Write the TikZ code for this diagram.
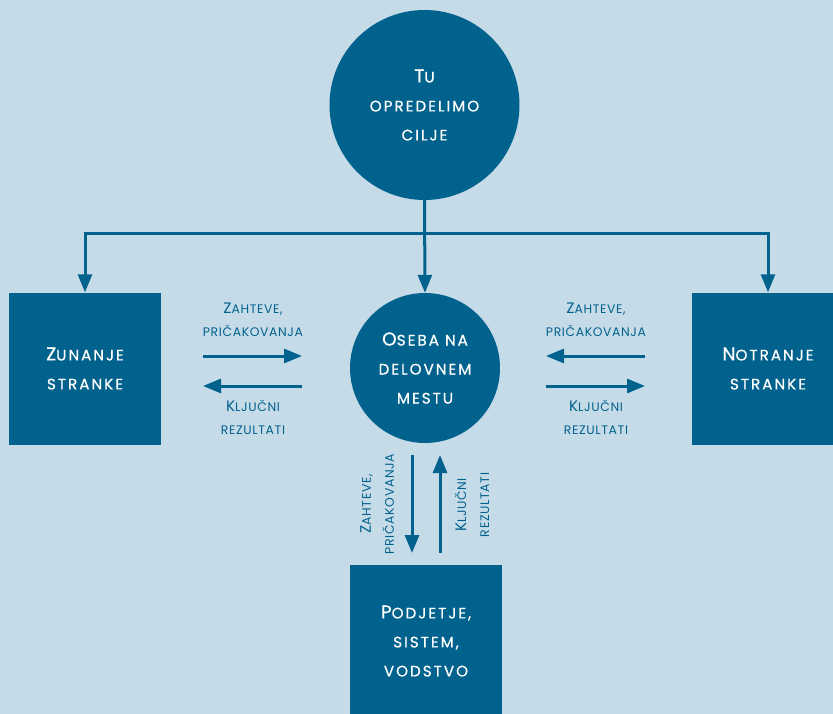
\documentclass[tikz,border=0pt]{standalone}
\usepackage{fontspec}
\setmainfont{Poppins}
\newfontfamily\nodefont[LetterSpace=13,FakeBold=0.6]{Poppins}
\newfontfamily\lblfont[LetterSpace=5]{Poppins}
\usetikzlibrary{arrows.meta}
\definecolor{bgblue}{HTML}{C6DBE8}
\definecolor{deepblue}{HTML}{01628E}
% initial capital, set larger than the small-cap body
\newcommand\nodecap[1]{{\fontsize{18.6}{29}\selectfont #1}}
\newcommand\lblcap[1]{{\fontsize{15.2}{23}\selectfont #1}}
\tikzset{
  bubble/.style={circle, fill=deepblue, draw=none, text=white, align=center,
    font=\nodefont\fontsize{15.2}{29}\selectfont},
  block/.style={rectangle, fill=deepblue, draw=none, text=white, align=center,
    minimum width=152pt, minimum height=152pt, font=\nodefont\fontsize{15.2}{29}\selectfont},
  lbl/.style={text=deepblue, align=center, font=\lblfont\fontsize{12.4}{23}\selectfont, inner sep=0pt},
  link/.style={draw=deepblue, line width=3pt,
    -{Triangle[width=14pt,length=18pt]}},
}
\begin{document}
\begin{tikzpicture}[x=1pt,y=-1pt]
  \fill[bgblue] (0,0) rectangle (833,714);
  \useasboundingbox (0,0) rectangle (833,714);

  % nodes
  \node[bubble, minimum size=190pt] (goal) at (424.5,105) {\nodecap{T}U\\OPREDELIMO\\CILJE};
  \node[bubble, minimum size=150pt] (person) at (425,368) {\nodecap{O}SEBA NA\\DELOVNEM\\MESTU};
  \node[block] (outer) at (85,368.5) {\nodecap{Z}UNANJE\\STRANKE};
  \node[block] (inner) at (768,368.5) {\nodecap{N}OTRANJE\\STRANKE};
  \node[block] (firm) at (426,641) {\nodecap{P}ODJETJE,\\SISTEM,\\VODSTVO};

  % distribution from the goal
  \coordinate (split) at (goal.south |- 0,234);
  \draw[link] (goal.south) -- (person.north);
  \draw[link] (split) -| (outer.north);
  \draw[link] (split) -| (inner.north);

  % exchange with outer clients
  \coordinate (oa1) at (203,356); \coordinate (oa2) at (302,356);
  \coordinate (ob1) at (302,386); \coordinate (ob2) at (203,386);
  \draw[link] (oa1) -- (oa2);
  \draw[link] (ob1) -- (ob2);
  \node[lbl] (oreq) at (253,320) {\lblcap{Z}AHTEVE,\\PRIČAKOVANJA};
  \node[lbl] (ores) at (253,417) {\lblcap{K}LJUČNI\\REZULTATI};

  % exchange with inner clients
  \coordinate (ia1) at (645,356); \coordinate (ia2) at (546,356);
  \coordinate (ib1) at (546,386); \coordinate (ib2) at (645,386);
  \draw[link] (ia1) -- (ia2);
  \draw[link] (ib1) -- (ib2);
  \node[lbl] (ireq) at (596,320) {\lblcap{Z}AHTEVE,\\PRIČAKOVANJA};
  \node[lbl] (ires) at (596,417) {\lblcap{K}LJUČNI\\REZULTATI};

  % exchange with the company
  \coordinate (fa1) at (412,455); \coordinate (fa2) at (412,553);
  \coordinate (fb1) at (440,553); \coordinate (fb2) at (440,455);
  \draw[link] (fa1) -- (fa2);
  \draw[link] (fb1) -- (fb2);
  \node[lbl, rotate=90] (freq) at (377,504) {\lblcap{Z}AHTEVE,\\PRIČAKOVANJA};
  \node[lbl, rotate=90] (fres) at (472,505) {\lblcap{K}LJUČNI\\REZULTATI};
\end{tikzpicture}
\end{document}
